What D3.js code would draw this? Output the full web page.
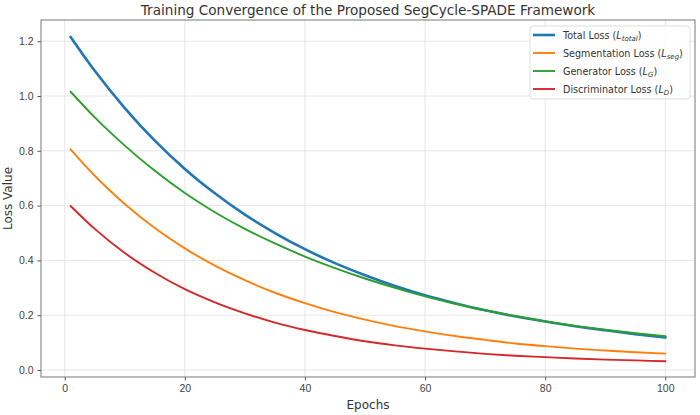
<!DOCTYPE html>
<html>
<head>
<meta charset="utf-8">
<script src="https://cdn.jsdelivr.net/npm/d3@7"></script>
<style>
  body { margin: 0; background: #fff; }
  svg { font-family: "DejaVu Sans", sans-serif; }
</style>
</head>
<body>
<svg id="chart" width="700" height="415"></svg>
<script>
// values, every 5 epochs (plus epoch 1)
const epochs = [1, 5, 10, 15, 20, 25, 30, 35, 40, 45, 50, 55, 60, 65, 70, 75, 80, 85, 90, 95, 100];
const totalLoss = [1.215, 1.092, 0.956, 0.837, 0.734, 0.645, 0.567, 0.500, 0.441, 0.390, 0.346,
  0.307, 0.273, 0.244, 0.218, 0.196, 0.177, 0.160, 0.145, 0.131, 0.119];
const segLoss = [0.805, 0.709, 0.606, 0.518, 0.444, 0.381, 0.328, 0.282, 0.244, 0.211, 0.184,
  0.160, 0.141, 0.124, 0.110, 0.097, 0.087, 0.078, 0.071, 0.065, 0.060];
const genLoss = [1.015, 0.922, 0.819, 0.727, 0.646, 0.576, 0.515, 0.462, 0.414, 0.372, 0.334,
  0.300, 0.269, 0.242, 0.218, 0.197, 0.178, 0.161, 0.147, 0.134, 0.123];
const discLoss = [0.598, 0.515, 0.427, 0.355, 0.295, 0.247, 0.207, 0.173, 0.146, 0.124, 0.105,
  0.090, 0.078, 0.068, 0.059, 0.052, 0.047, 0.042, 0.038, 0.035, 0.032];

const xTicks = [0, 20, 40, 60, 80, 100];
const yTicks = [0.0, 0.2, 0.4, 0.6, 0.8, 1.0, 1.2];

const series = [
  { name: "Total Loss (", sub: "total", values: totalLoss, color: "#1f77b4", width: 2.6 },
  { name: "Segmentation Loss (", sub: "seg", values: segLoss, color: "#ff7f0e", width: 1.9 },
  { name: "Generator Loss (", sub: "G", values: genLoss, color: "#2ca02c", width: 1.9 },
  { name: "Discriminator Loss (", sub: "D", values: discLoss, color: "#d62728", width: 1.9 },
];

const margin = { top: 20, right: 5, bottom: 38, left: 41 };
const width = 700, height = 415;

const svg = d3.select("#chart");

const x = d3.scaleLinear()
  .domain([-3.95, 104.95])
  .range([margin.left, width - margin.right]);

const y = d3.scaleLinear()
  .domain([-0.0255, 1.2775])
  .range([height - margin.bottom, margin.top]);

// grid
svg.append("g")
  .selectAll("line.gx")
  .data(xTicks)
  .join("line")
  .attr("x1", d => x(d)).attr("x2", d => x(d))
  .attr("y1", margin.top).attr("y2", height - margin.bottom)
  .attr("stroke", "#e3e3e3").attr("stroke-width", 0.9);

svg.append("g")
  .selectAll("line.gy")
  .data(yTicks)
  .join("line")
  .attr("x1", margin.left).attr("x2", width - margin.right)
  .attr("y1", d => y(d)).attr("y2", d => y(d))
  .attr("stroke", "#e3e3e3").attr("stroke-width", 0.9);

// axes
const xAxis = svg.append("g")
  .attr("transform", "translate(0," + (height - margin.bottom) + ")")
  .call(d3.axisBottom(x).tickValues(xTicks).tickFormat(d3.format("d")).tickSize(3.5).tickSizeOuter(0).tickPadding(4));

const yAxis = svg.append("g")
  .attr("transform", "translate(" + margin.left + ",0)")
  .call(d3.axisLeft(y).tickValues(yTicks).tickFormat(d3.format(".1f")).tickSize(3.5).tickSizeOuter(0).tickPadding(4));

[xAxis, yAxis].forEach(a => {
  a.select(".domain").remove();
  a.selectAll("line").attr("stroke", "#555");
  a.selectAll("text").attr("fill", "#444").style("font-size", "10.5px");
});

// frame
svg.append("rect")
  .attr("x", margin.left).attr("y", margin.top)
  .attr("width", width - margin.left - margin.right)
  .attr("height", height - margin.top - margin.bottom)
  .attr("fill", "none").attr("stroke", "#777").attr("stroke-width", 1);

// lines
const line = d3.line()
  .x((d, i) => x(epochs[i]))
  .y(d => y(d))
  .curve(d3.curveMonotoneX);

svg.append("g")
  .selectAll("path")
  .data(series)
  .join("path")
  .attr("d", d => line(d.values))
  .attr("fill", "none")
  .attr("stroke", d => d.color)
  .attr("stroke-width", d => d.width)
  .attr("stroke-linecap", "square");

// title and labels
svg.append("text")
  .attr("x", (margin.left + width - margin.right) / 2)
  .attr("y", 15)
  .attr("text-anchor", "middle")
  .attr("fill", "#333")
  .style("font-size", "13.6px")
  .text("Training Convergence of the Proposed SegCycle-SPADE Framework");

svg.append("text")
  .attr("x", (margin.left + width - margin.right) / 2)
  .attr("y", 409)
  .attr("text-anchor", "middle")
  .attr("fill", "#333")
  .style("font-size", "12px")
  .text("Epochs");

svg.append("text")
  .attr("transform", "translate(12," + ((margin.top + height - margin.bottom) / 2) + ") rotate(-90)")
  .attr("text-anchor", "middle")
  .attr("fill", "#333")
  .style("font-size", "12px")
  .text("Loss Value");

// legend
const legend = svg.append("g").attr("transform", "translate(530,26)");
legend.append("rect")
  .attr("width", 160).attr("height", 73)
  .attr("rx", 3)
  .attr("fill", "#fff").attr("fill-opacity", 0.85)
  .attr("stroke", "#ddd");

const item = legend.selectAll("g.item")
  .data(series)
  .join("g")
  .attr("transform", (d, i) => "translate(0," + (9 + i * 18) + ")");

item.append("line")
  .attr("x1", 3).attr("x2", 25)
  .attr("stroke", d => d.color)
  .attr("stroke-width", d => d.width);

const label = item.append("text")
  .attr("x", 33).attr("y", 3.5)
  .attr("fill", "#333")
  .style("font-size", "9.6px");
label.append("tspan").text(d => d.name);
label.append("tspan").style("font-style", "italic").text("L");
label.append("tspan").style("font-style", "italic").style("font-size", "7px").attr("dy", 2).text(d => d.sub);
label.append("tspan").attr("dy", -2).text(")");
</script>
</body>
</html>
